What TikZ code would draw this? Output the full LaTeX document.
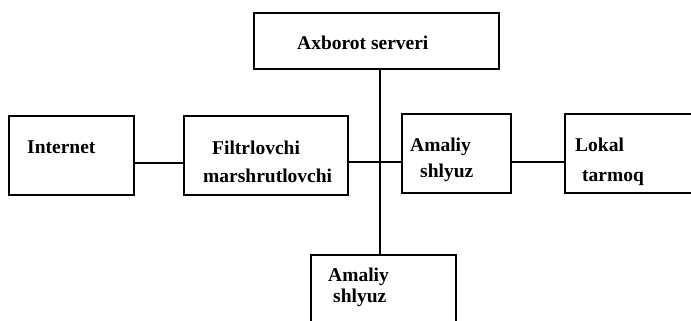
\documentclass[tikz,border=0pt]{standalone}
\usepackage{fontspec}
\setmainfont{Liberation Serif}
\begin{document}
\begin{tikzpicture}[x=1pt,y=-1pt,
  box/.style={draw, line width=2.2pt, rectangle, anchor=north west, inner sep=0pt},
  lbl/.style={anchor=base west, inner sep=0pt, font=\fontsize{19.5}{23}\selectfont\bfseries},
  wire/.style={line width=2.6pt}]
  \clip (0,0) rectangle (691,321);
  \fill[white] (0,0) rectangle (691,321);

  % boxes
  \node[box, minimum width=245pt, minimum height=56pt] (server) at (253,12) {};
  \node[box, minimum width=125pt, minimum height=79pt] (internet) at (8,115) {};
  \node[box, minimum width=164pt, minimum height=79pt] (filter) at (183,115) {};
  \node[box, minimum width=109pt, minimum height=79pt] (gateA) at (401,113) {};
  \node[box, minimum width=140pt, minimum height=79pt] (lan) at (564,113) {};
  \node[box, minimum width=145pt, minimum height=80pt] (gateB) at (310,254) {};

  % labels
  \node[lbl] (serverT) at (297,50) {Axborot serveri};
  \node[lbl] (internetT) at (27,153) {Internet};
  \node[lbl] (filterT1) at (212,154) {Filtrlovchi};
  \node[lbl] (filterT2) at (203,182) {marshrutlovchi};
  \node[lbl] (gateAT1) at (410,151) {Amaliy};
  \node[lbl] (gateAT2) at (420,177) {shlyuz};
  \node[lbl] (lanT1) at (575,151) {Lokal};
  \node[lbl] (lanT2) at (582,181) {tarmoq};
  \node[lbl] (gateBT1) at (328,281) {Amaliy};
  \node[lbl] (gateBT2) at (333,302) {shlyuz};

  % connectors
  \coordinate (hub) at (380,162);
  \draw[wire] (internet.east |- 0,163) -- (filter.west |- 0,163);
  \draw[wire] (filter.east |- hub) -- (gateA.west |- hub);
  \draw[wire] (gateA.east |- hub) -- (lan.west |- hub);
  \draw[wire] (server.south -| hub) -- (gateB.north -| hub);
\end{tikzpicture}
\end{document}
